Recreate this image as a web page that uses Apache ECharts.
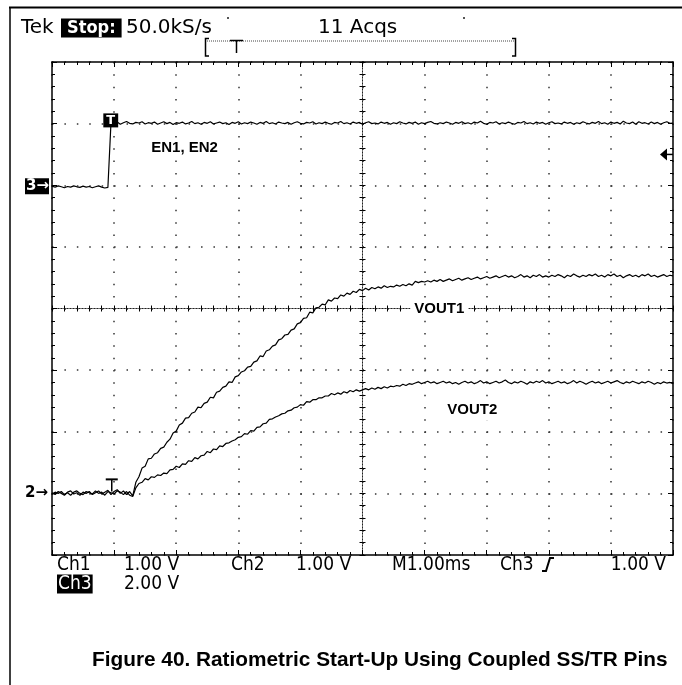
<!DOCTYPE html>
<html>
<head>
<meta charset="utf-8">
<script src="https://cdn.jsdelivr.net/npm/echarts@6/dist/echarts.min.js"></script>
<style>
  html, body { margin: 0; padding: 0; background: #fff; }
  #c { width: 682px; height: 685px; }
</style>
</head>
<body>
<div id="c"></div>
<script>
// Acquisition record: 10 ms window, one stored sample every 0.05 ms
const sampleInterval = 0.05;   // ms
const triggerTime = 0.93;      // ms, EN rising edge
const ch3TriggerLevel = 1.0;   // V

// Ch1: VOUT1 (V)
const vout1 = [
  0.01, -0.02, 0.03, 0.00, -0.03, 0.02, 0.04, -0.01, 0.01, -0.03,
  0.02, 0.00, 0.03, -0.02, 0.01, 0.04, -0.01, 0.02, 0.05, -0.02,
  0.03, 0.06, 0.00, 0.04, -0.02, 0.03, -0.04, 0.18, 0.27, 0.41,
  0.44, 0.56, 0.57, 0.64, 0.66, 0.73, 0.75, 0.83, 0.88, 0.98,
  1.01, 1.11, 1.14, 1.22, 1.23, 1.30, 1.32, 1.40, 1.39, 1.46,
  1.48, 1.56, 1.55, 1.64, 1.66, 1.72, 1.74, 1.81, 1.80, 1.89,
  1.91, 1.97, 1.99, 2.05, 2.06, 2.13, 2.15, 2.23, 2.22, 2.31,
  2.33, 2.39, 2.41, 2.49, 2.51, 2.57, 2.58, 2.65, 2.67, 2.75,
  2.77, 2.84, 2.85, 2.94, 2.93, 3.01, 3.02, 3.07, 3.06, 3.14,
  3.12, 3.17, 3.16, 3.22, 3.20, 3.25, 3.23, 3.28, 3.26, 3.31,
  3.29, 3.33, 3.30, 3.34, 3.32, 3.35, 3.33, 3.37, 3.34, 3.36,
  3.35, 3.38, 3.36, 3.39, 3.37, 3.40, 3.38, 3.44, 3.42, 3.44,
  3.43, 3.45, 3.43, 3.46, 3.44, 3.47, 3.44, 3.46, 3.48, 3.45,
  3.47, 3.49, 3.46, 3.48, 3.50, 3.47, 3.49, 3.51, 3.48, 3.50,
  3.52, 3.49, 3.51, 3.53, 3.50, 3.52, 3.54, 3.51, 3.53, 3.50,
  3.52, 3.55, 3.51, 3.53, 3.50, 3.54, 3.52, 3.55, 3.51, 3.53,
  3.51, 3.54, 3.52, 3.55, 3.53, 3.50, 3.54, 3.52, 3.56, 3.53,
  3.51, 3.54, 3.52, 3.55, 3.53, 3.56, 3.52, 3.54, 3.51, 3.55,
  3.53, 3.56, 3.52, 3.54, 3.50, 3.53, 3.55, 3.52, 3.54, 3.51,
  3.55, 3.53, 3.56, 3.52, 3.54, 3.51, 3.53, 3.55, 3.52, 3.54,
  3.53
];

// Ch2: VOUT2 (V)
const vout2 = [
  -0.01, 0.02, 0.00, 0.03, -0.02, 0.01, -0.03, 0.02, 0.04, 0.00,
  -0.02, 0.03, 0.01, -0.01, 0.04, 0.00, 0.02, -0.03, 0.03, 0.01,
  -0.01, 0.04, 0.02, -0.02, 0.03, -0.03, -0.05, 0.09, 0.16, 0.18,
  0.24, 0.22, 0.27, 0.26, 0.30, 0.29, 0.33, 0.32, 0.38, 0.39,
  0.44, 0.42, 0.48, 0.47, 0.53, 0.52, 0.58, 0.56, 0.61, 0.62,
  0.68, 0.66, 0.72, 0.71, 0.77, 0.76, 0.81, 0.82, 0.85, 0.87,
  0.91, 0.92, 0.97, 0.96, 1.02, 1.01, 1.07, 1.08, 1.13, 1.14,
  1.20, 1.21, 1.24, 1.26, 1.29, 1.30, 1.34, 1.35, 1.39, 1.40,
  1.44, 1.43, 1.49, 1.48, 1.52, 1.52, 1.55, 1.55, 1.58, 1.58,
  1.62, 1.60, 1.63, 1.61, 1.65, 1.63, 1.67, 1.65, 1.68, 1.66,
  1.68, 1.70, 1.68, 1.71, 1.69, 1.72, 1.70, 1.73, 1.71, 1.74,
  1.73, 1.75, 1.74, 1.77, 1.75, 1.78, 1.77, 1.79, 1.81, 1.78,
  1.80, 1.82, 1.79, 1.81, 1.78, 1.80, 1.82, 1.79, 1.81, 1.78,
  1.80, 1.77, 1.80, 1.82, 1.79, 1.81, 1.78, 1.80, 1.83, 1.79,
  1.81, 1.78, 1.80, 1.82, 1.79, 1.81, 1.84, 1.80, 1.78, 1.81,
  1.79, 1.82, 1.80, 1.77, 1.81, 1.79, 1.82, 1.80, 1.83, 1.79,
  1.81, 1.78, 1.80, 1.82, 1.79, 1.81, 1.78, 1.80, 1.83, 1.79,
  1.82, 1.80, 1.77, 1.80, 1.82, 1.79, 1.81, 1.78, 1.80, 1.82,
  1.79, 1.81, 1.83, 1.80, 1.78, 1.81, 1.79, 1.82, 1.80, 1.78,
  1.81, 1.79, 1.82, 1.80, 1.77, 1.80, 1.78, 1.81, 1.79, 1.80,
  1.78
];

// Ch3: EN1, EN2 (V)
const en = [
  -0.03, -0.06, -0.02, -0.05, -0.08, -0.04, -0.06, -0.02, -0.05, -0.07,
  -0.03, -0.06, -0.04, -0.08, -0.05, -0.02, -0.06, -0.09, -0.07, 2.04,
  2.00, 2.05, 1.98, 2.03, 2.07, 2.01, 1.99, 2.04, 2.02, 2.06,
  1.99, 2.03, 2.01, 2.05, 1.98, 2.02, 2.06, 2.00, 2.04, 1.97,
  2.03, 2.01, 2.05, 1.99, 2.02, 2.07, 2.00, 2.03, 1.98, 2.04,
  2.01, 2.06, 1.99, 2.02, 2.05, 2.00, 2.03, 1.97, 2.04, 2.01,
  2.06, 1.99, 2.03, 2.00, 2.05, 2.02, 1.98, 2.04, 2.01, 2.07,
  2.00, 2.03, 1.99, 2.05, 2.02, 2.00, 2.04, 1.98, 2.03, 2.06,
  2.01, 1.99, 2.04, 2.02, 2.06, 1.99, 2.03, 2.00, 2.05, 2.01,
  1.98, 2.04, 2.02, 2.07, 2.00, 2.03, 1.99, 2.05, 2.01, 2.04,
  1.98, 2.03, 2.06, 2.00, 2.02, 1.99, 2.05, 2.01, 2.04, 1.98,
  2.03, 2.00, 2.06, 2.02, 1.99, 2.04, 2.01, 2.05, 1.98, 2.03,
  2.00, 2.04, 2.07, 2.01, 1.99, 2.03, 2.00, 2.05, 2.02, 1.98,
  2.04, 2.01, 2.06, 2.00, 2.03, 1.99, 2.05, 2.02, 2.08, 2.01,
  1.98, 2.04, 2.02, 2.06, 1.99, 2.03, 2.00, 2.05, 2.01, 1.98,
  2.04, 2.02, 2.07, 2.00, 2.03, 1.99, 2.05, 2.01, 2.04, 1.98,
  2.03, 2.06, 2.00, 2.02, 1.99, 2.05, 2.01, 2.04, 1.98, 2.03,
  2.00, 2.06, 2.02, 1.99, 2.04, 2.01, 2.07, 2.00, 2.03, 1.98,
  2.05, 2.01, 2.04, 1.99, 2.08, 2.02, 2.00, 2.05, 1.98, 2.06,
  2.01, 2.03, 1.99, 2.05, 2.00, 2.04, 1.98, 2.03, 2.06, 2.01,
  2.02
];

// Readout texts
const headerTexts = { brand: 'Tek', state: 'Stop:', rate: '50.0kS/s', acqs: '11 Acqs' };
const readoutRow1 = [['Ch1', 57], ['1.00 V', 124], ['Ch2', 231], ['1.00 V', 296], ['M1.00ms', 392], ['Ch3', 500]];
const readoutRow2 = [['2.00 V', 124]];
const ch3Scale = '1.00 V';
const traceLabels = ['EN1, EN2', 'VOUT1', 'VOUT2'];
const caption = 'Figure 40. Ratiometric Start-Up Using Coupled SS/TR Pins';

function toPairs(values) {
  return values.map((v, i) => [Math.round(i * sampleInterval * 100) / 100, v]);
}

const INK = '#000';
const GRID_DOT = '#333';
const scopeFont = '"DejaVu Sans Condensed", "DejaVu Sans", sans-serif';

const chart = echarts.init(document.getElementById('c'), null, { renderer: 'canvas' });

const borderAxis = {
  axisLabel: { show: false },
  axisLine: { show: true, onZero: false, lineStyle: { color: INK, width: 1.5 } },
  axisTick: { show: true, inside: true, length: 5, lineStyle: { color: INK, width: 1 } },
  minorTick: { show: true, splitNumber: 5, length: 3, lineStyle: { color: INK, width: 1 } },
  splitLine: { show: false }
};
function centreAxis(inside, otherIndex) {
  return {
    axisLabel: { show: false },
    axisLine: { show: true, onZero: true, onZeroAxisIndex: otherIndex, lineStyle: { color: '#222', width: 1, type: [1, 2] } },
    axisTick: { show: true, inside: inside, length: 3, lineStyle: { color: INK, width: 1 } },
    minorTick: { show: true, splitNumber: 5, length: 3, lineStyle: { color: INK, width: 1 } },
    splitLine: { show: false }
  };
}

const traceStyle = { color: INK, width: 1.2 };

const option = {
  animation: false,
  backgroundColor: '#fff',
  grid: { left: 52, top: 62, width: 621, height: 493, show: false, containLabel: false },
  xAxis: [
    Object.assign({ type: 'value', min: 0, max: 10, interval: 1, position: 'bottom' }, borderAxis,
      { splitLine: { show: true, lineStyle: { color: GRID_DOT, width: 1.5, type: [1.5, 10.82] } } }),
    Object.assign({ type: 'value', min: 0, max: 10, interval: 1, position: 'top' }, borderAxis),
    Object.assign({ type: 'value', min: -5, max: 5, interval: 1, position: 'bottom' }, centreAxis(true, 2)),
    Object.assign({ type: 'value', min: -5, max: 5, interval: 1, position: 'bottom' }, centreAxis(false, 2))
  ],
  yAxis: [
    Object.assign({ type: 'value', min: -1, max: 7, interval: 1, position: 'left' }, borderAxis,
      { splitLine: { show: true, lineStyle: { color: GRID_DOT, width: 1.5, type: [1.5, 10.92] } } }),
    Object.assign({ type: 'value', min: -12, max: 4, interval: 2, position: 'right' }, borderAxis),
    Object.assign({ type: 'value', min: -4, max: 4, interval: 1, position: 'left' }, centreAxis(true, 2)),
    Object.assign({ type: 'value', min: -4, max: 4, interval: 1, position: 'left' }, centreAxis(false, 2))
  ],
  series: [
    { name: 'VOUT1', type: 'line', xAxisIndex: 0, yAxisIndex: 0, data: toPairs(vout1), showSymbol: false, symbol: 'none',
      lineStyle: traceStyle, z: 5 },
    { name: 'VOUT2', type: 'line', xAxisIndex: 0, yAxisIndex: 0, data: toPairs(vout2), showSymbol: false, symbol: 'none',
      lineStyle: traceStyle, z: 5 },
    { name: 'EN1, EN2', type: 'line', xAxisIndex: 0, yAxisIndex: 1, data: toPairs(en), showSymbol: false, symbol: 'none',
      lineStyle: traceStyle, z: 5 }
  ]
};
chart.setOption(option);

// Channel markers and readouts, placed through the axis scales
const px = (x, y, yi) => chart.convertToPixel({ xAxisIndex: 0, yAxisIndex: yi }, [x, y]);
const ch2Ground = px(0, 0, 0);
const ch3Ground = px(0, 0, 1);
const trigTop = px(triggerTime, en[19], 1);
const trigLow = px(triggerTime, 0, 0);
const trigLevel = px(10, ch3TriggerLevel, 1);
const labelEN = px(1.55, 1.2, 1);
const labelV1 = px(5.77, 3, 0);
const labelV2 = px(6.3, 1.35, 0);

function txt(x, y, text, font, extra) {
  return { type: 'text', x: x, y: y, z: 50, silent: true,
    style: Object.assign({ text: text, font: font, fill: INK, align: 'left', verticalAlign: 'middle' }, extra || {}) };
}

const g = [];
// outer frame
g.push({ type: 'line', z: 50, shape: { x1: 9, y1: 7.5, x2: 682, y2: 7.5 }, style: { stroke: INK, lineWidth: 2 } });
g.push({ type: 'line', z: 50, shape: { x1: 10, y1: 7, x2: 10, y2: 685 }, style: { stroke: INK, lineWidth: 1.5 } });

// header
const headFont = '20px "DejaVu Sans", sans-serif';
g.push(txt(21, 28, headerTexts.brand, headFont));
g.push(txt(61, 28, headerTexts.state, 'bold 18px ' + scopeFont, { fill: '#fff', backgroundColor: '#000', padding: [1, 6, 0, 6] }));
g.push(txt(126, 28, headerTexts.rate, headFont));
g.push(txt(318, 28, headerTexts.acqs, headFont));
g.push({ type: 'rect', z: 50, shape: { x: 227, y: 17, width: 2, height: 2 }, style: { fill: '#555' } });
g.push({ type: 'rect', z: 50, shape: { x: 463, y: 17, width: 2, height: 2 }, style: { fill: '#555' } });
// record-position bracket
g.push({ type: 'polyline', z: 50, shape: { points: [[209, 38.5], [205.5, 38.5], [205.5, 56], [209, 56]] }, style: { stroke: INK, lineWidth: 1.5, fill: null } });
g.push({ type: 'polyline', z: 50, shape: { points: [[512, 38.5], [515.5, 38.5], [515.5, 56], [512, 56]] }, style: { stroke: INK, lineWidth: 1.5, fill: null } });
g.push({ type: 'line', z: 50, shape: { x1: 207, y1: 41, x2: 514, y2: 41 }, style: { stroke: '#444', lineWidth: 1, lineDash: [1, 1] } });
g.push({ type: 'line', z: 50, shape: { x1: 230, y1: 40.5, x2: 243, y2: 40.5 }, style: { stroke: INK, lineWidth: 1.5 } });
g.push({ type: 'line', z: 50, shape: { x1: 236.5, y1: 40, x2: 236.5, y2: 53 }, style: { stroke: INK, lineWidth: 1.5 } });

// channel ground markers
g.push(txt(25, ch3Ground[1] + 1, '3\u2192', 'bold 15px "DejaVu Sans", sans-serif', { fill: '#fff', backgroundColor: '#000', padding: [1, 0, 0, 1] }));
g.push(txt(25, ch2Ground[1], '2\u2192', 'bold 15px "DejaVu Sans", sans-serif'));
// trigger markers
g.push(txt(trigTop[0] + 1, trigTop[1] - 2, 'T', 'bold 13px "DejaVu Sans", sans-serif', { align: 'center', fill: '#fff', backgroundColor: '#000', padding: [1, 3, 0, 3] }));
g.push({ type: 'line', z: 50, shape: { x1: trigLow[0] - 4, y1: trigLow[1] - 14, x2: trigLow[0] + 8, y2: trigLow[1] - 14 }, style: { stroke: INK, lineWidth: 2 } });
g.push({ type: 'line', z: 50, shape: { x1: trigLow[0] + 2, y1: trigLow[1] - 14, x2: trigLow[0] + 2, y2: trigLow[1] - 2 }, style: { stroke: INK, lineWidth: 1.5 } });
g.push({ type: 'polygon', z: 50, shape: { points: [[trigLevel[0] - 13, trigLevel[1]], [trigLevel[0] - 6, trigLevel[1] - 6], [trigLevel[0] - 6, trigLevel[1] + 6]] }, style: { fill: INK } });
g.push({ type: 'line', z: 50, shape: { x1: trigLevel[0] - 7, y1: trigLevel[1], x2: trigLevel[0], y2: trigLevel[1] }, style: { stroke: INK, lineWidth: 1.5 } });

// trace labels
const labelFont = 'bold 15px "Liberation Sans", Arial, sans-serif';
g.push(txt(labelEN[0], labelEN[1], traceLabels[0], labelFont, { backgroundColor: '#fff', padding: [2, 3] }));
g.push(txt(labelV1[0], labelV1[1], traceLabels[1], labelFont, { backgroundColor: '#fff', padding: [3, 4] }));
g.push(txt(labelV2[0], labelV2[1], traceLabels[2], labelFont, { backgroundColor: '#fff', padding: [3, 4] }));

// bottom readout
const roFont = '19px ' + scopeFont;
readoutRow1.forEach(([t, x]) => g.push(txt(x, 565, t, roFont)));
g.push(txt(666, 565, ch3Scale, roFont, { align: 'right' }));
g.push({ type: 'polyline', z: 50, shape: { points: [[542, 571], [546, 571], [550, 558], [554, 558]] }, style: { stroke: INK, lineWidth: 2, fill: null } });
g.push(txt(57, 584, 'Ch3', roFont, { fill: '#fff', backgroundColor: '#000', padding: [0, 1, 0, 1] }));
readoutRow2.forEach(([t, x]) => g.push(txt(x, 584, t, roFont)));

// caption
g.push(txt(92, 660, caption, 'bold 20.8px "Liberation Sans", Arial, sans-serif'));

chart.setOption({ graphic: g });
</script>
</body>
</html>
